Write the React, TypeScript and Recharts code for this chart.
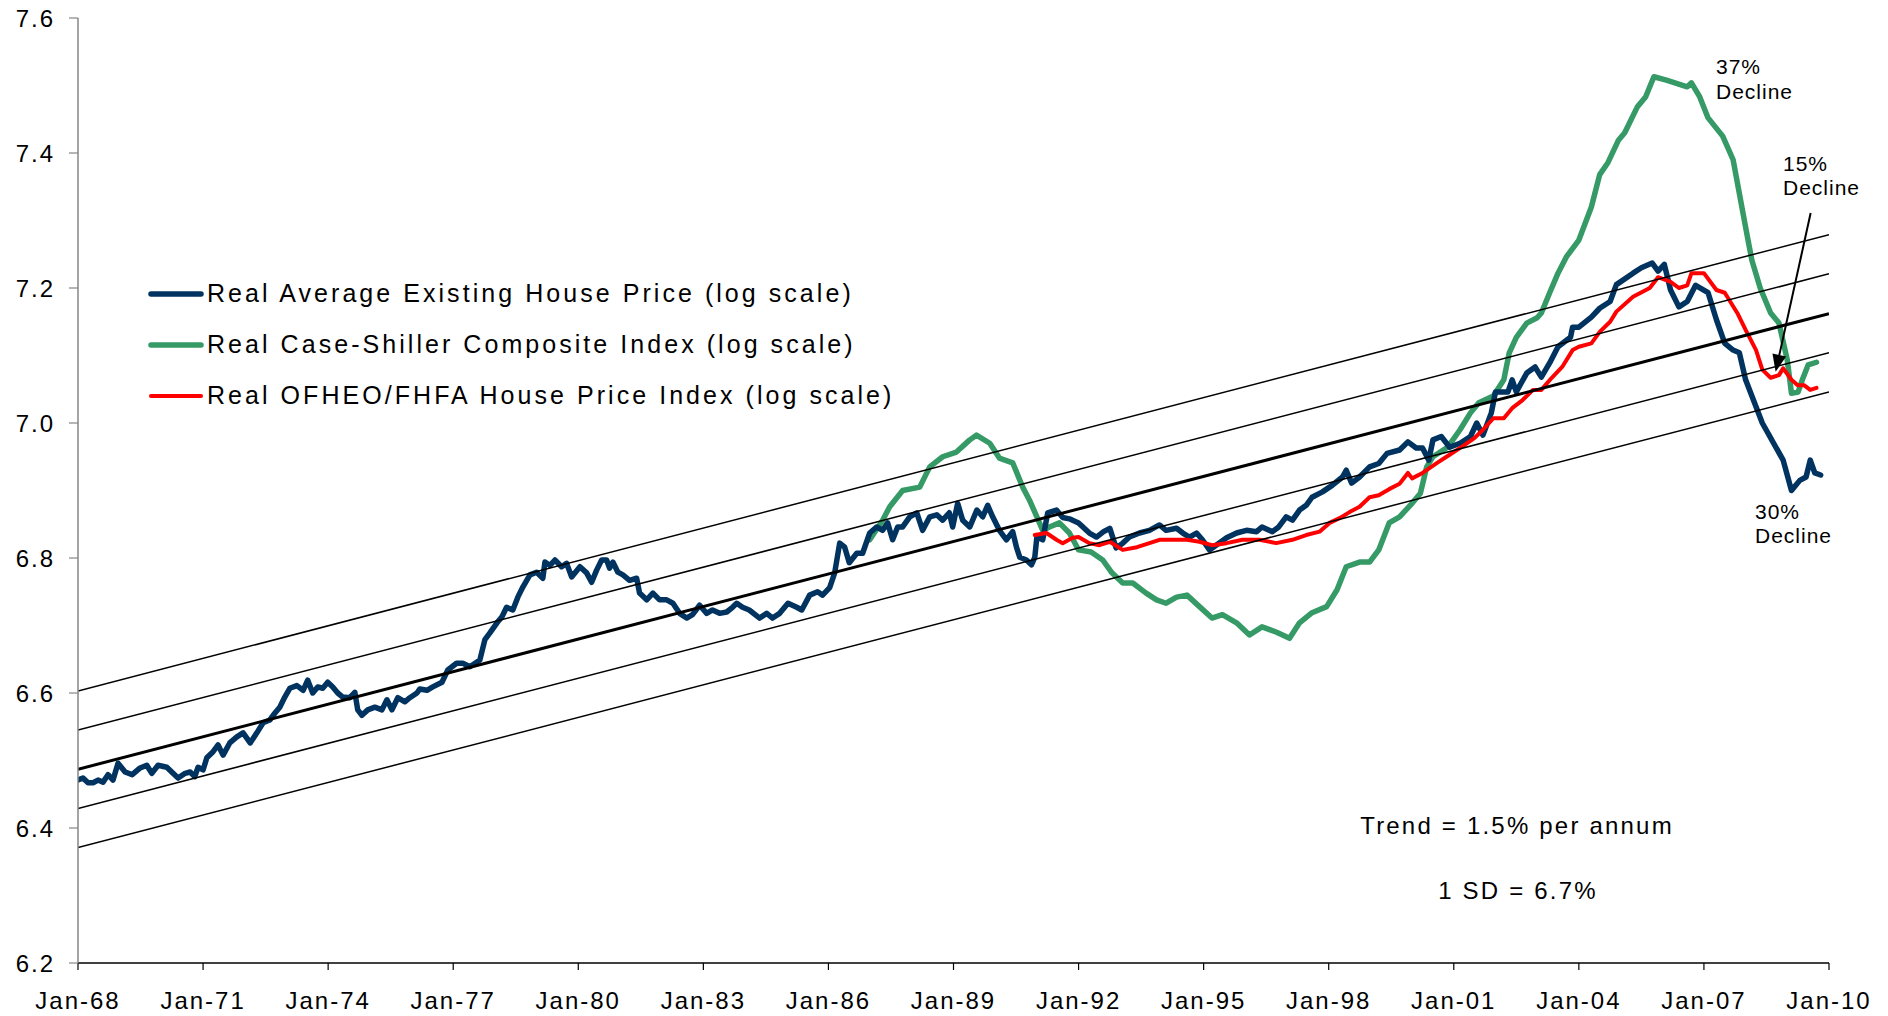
import React from 'react';
import { LineChart, Line, XAxis, YAxis, ReferenceLine, Legend } from 'recharts';

const FONT = '"Liberation Sans", Arial, Helvetica, sans-serif';

// ---------- axes ----------
const xTickYears = [1968, 1971, 1974, 1977, 1980, 1983, 1986, 1989, 1992, 1995, 1998, 2001, 2004, 2007, 2010];
const yTicks = [6.2, 6.4, 6.6, 6.8, 7.0, 7.2, 7.4, 7.6];

// ---------- trend channel (log) ----------
const trendYears = [1968, 2010];
const trendUpper2 = [6.603, 7.279];
const trendUpper1 = [6.545, 7.221];
const trendCenter = [6.487, 7.162];
const trendLower1 = [6.429, 7.104];
const trendLower2 = [6.371, 7.046];

// ---------- series: [year, log value] ----------
const avgExistingPrice: [number, number][] = [
  [1968.0, 6.471], [1968.12, 6.474], [1968.24, 6.467], [1968.36, 6.467], [1968.48, 6.471], [1968.6, 6.468],
  [1968.72, 6.479], [1968.84, 6.471], [1968.96, 6.496], [1969.13, 6.483], [1969.3, 6.479], [1969.49, 6.489],
  [1969.65, 6.493], [1969.77, 6.481], [1969.92, 6.493], [1970.13, 6.49], [1970.28, 6.481], [1970.4, 6.474],
  [1970.57, 6.481], [1970.69, 6.483], [1970.8, 6.476], [1970.88, 6.49], [1971.0, 6.486], [1971.09, 6.504],
  [1971.24, 6.513], [1971.36, 6.523], [1971.48, 6.508], [1971.64, 6.526], [1971.81, 6.535], [1971.96, 6.541],
  [1972.13, 6.526], [1972.29, 6.541], [1972.44, 6.556], [1972.6, 6.56], [1972.72, 6.57], [1972.84, 6.579],
  [1972.96, 6.594], [1973.08, 6.607], [1973.25, 6.611], [1973.4, 6.604], [1973.51, 6.619], [1973.63, 6.6],
  [1973.75, 6.609], [1973.87, 6.607], [1973.99, 6.616], [1974.11, 6.609], [1974.23, 6.6], [1974.35, 6.594],
  [1974.52, 6.593], [1974.64, 6.601], [1974.71, 6.575], [1974.81, 6.567], [1974.95, 6.575], [1975.12, 6.579],
  [1975.29, 6.575], [1975.41, 6.59], [1975.53, 6.575], [1975.67, 6.593], [1975.84, 6.587], [1975.96, 6.593],
  [1976.13, 6.6], [1976.2, 6.606], [1976.37, 6.604], [1976.51, 6.609], [1976.73, 6.616], [1976.87, 6.634],
  [1977.08, 6.644], [1977.23, 6.644], [1977.4, 6.639], [1977.64, 6.649], [1977.76, 6.679], [1977.88, 6.689],
  [1978.05, 6.704], [1978.17, 6.713], [1978.28, 6.727], [1978.43, 6.723], [1978.55, 6.742], [1978.67, 6.757],
  [1978.84, 6.775], [1979.0, 6.779], [1979.15, 6.77], [1979.2, 6.794], [1979.32, 6.789], [1979.44, 6.797],
  [1979.6, 6.787], [1979.72, 6.792], [1979.84, 6.772], [1980.04, 6.787], [1980.2, 6.778], [1980.32, 6.764],
  [1980.44, 6.782], [1980.56, 6.797], [1980.68, 6.797], [1980.75, 6.785], [1980.83, 6.794], [1980.95, 6.779],
  [1981.07, 6.775], [1981.23, 6.767], [1981.4, 6.77], [1981.47, 6.748], [1981.64, 6.738], [1981.79, 6.748],
  [1981.95, 6.738], [1982.12, 6.738], [1982.27, 6.733], [1982.43, 6.718], [1982.6, 6.711], [1982.74, 6.716],
  [1982.91, 6.73], [1983.08, 6.718], [1983.22, 6.723], [1983.39, 6.718], [1983.56, 6.72], [1983.7, 6.727],
  [1983.8, 6.733], [1983.94, 6.727], [1984.1, 6.723], [1984.35, 6.711], [1984.52, 6.718], [1984.66, 6.711],
  [1984.83, 6.718], [1985.03, 6.733], [1985.24, 6.727], [1985.36, 6.723], [1985.55, 6.745], [1985.74, 6.75],
  [1985.86, 6.745], [1986.03, 6.756], [1986.15, 6.778], [1986.27, 6.822], [1986.39, 6.816], [1986.5, 6.793],
  [1986.68, 6.807], [1986.82, 6.807], [1986.99, 6.837], [1987.16, 6.846], [1987.3, 6.841], [1987.42, 6.852],
  [1987.54, 6.827], [1987.66, 6.846], [1987.78, 6.846], [1987.95, 6.861], [1988.12, 6.867], [1988.26, 6.841],
  [1988.43, 6.861], [1988.6, 6.864], [1988.74, 6.856], [1988.9, 6.867], [1988.98, 6.846], [1989.1, 6.881],
  [1989.22, 6.856], [1989.39, 6.846], [1989.56, 6.871], [1989.7, 6.861], [1989.82, 6.878], [1989.94, 6.861],
  [1990.1, 6.841], [1990.27, 6.827], [1990.42, 6.839], [1990.51, 6.816], [1990.59, 6.801], [1990.75, 6.797],
  [1990.87, 6.79], [1990.95, 6.801], [1991.0, 6.831], [1991.14, 6.827], [1991.26, 6.867], [1991.47, 6.871],
  [1991.62, 6.86], [1991.78, 6.858], [1992.0, 6.852], [1992.26, 6.837], [1992.43, 6.831], [1992.6, 6.839],
  [1992.75, 6.844], [1992.9, 6.815], [1993.06, 6.822], [1993.22, 6.831], [1993.46, 6.837], [1993.7, 6.841],
  [1993.94, 6.849], [1994.1, 6.841], [1994.35, 6.844], [1994.5, 6.837], [1994.66, 6.831], [1994.83, 6.837],
  [1994.97, 6.827], [1995.14, 6.812], [1995.3, 6.819], [1995.55, 6.83], [1995.79, 6.837], [1996.03, 6.841],
  [1996.27, 6.839], [1996.4, 6.846], [1996.65, 6.839], [1996.8, 6.846], [1996.98, 6.861], [1997.13, 6.856],
  [1997.3, 6.871], [1997.46, 6.878], [1997.6, 6.89], [1997.85, 6.898], [1998.09, 6.908], [1998.33, 6.92],
  [1998.42, 6.93], [1998.55, 6.911], [1998.74, 6.92], [1998.98, 6.935], [1999.2, 6.94], [1999.4, 6.955],
  [1999.7, 6.96], [1999.9, 6.972], [2000.1, 6.963], [2000.25, 6.963], [2000.4, 6.945], [2000.5, 6.975],
  [2000.7, 6.98], [2000.9, 6.964], [2001.15, 6.97], [2001.4, 6.98], [2001.55, 7.0], [2001.7, 6.982],
  [2001.9, 7.015], [2002.0, 7.046], [2002.3, 7.046], [2002.4, 7.064], [2002.5, 7.046], [2002.75, 7.074],
  [2002.95, 7.083], [2003.1, 7.068], [2003.3, 7.089], [2003.5, 7.113], [2003.8, 7.127], [2003.85, 7.142],
  [2004.0, 7.142], [2004.3, 7.157], [2004.5, 7.17], [2004.75, 7.18], [2004.9, 7.205], [2005.3, 7.222],
  [2005.5, 7.23], [2005.76, 7.237], [2005.9, 7.225], [2006.05, 7.235], [2006.2, 7.197], [2006.4, 7.172],
  [2006.6, 7.18], [2006.8, 7.204], [2007.1, 7.193], [2007.3, 7.153], [2007.5, 7.118], [2007.7, 7.108],
  [2007.85, 7.104], [2008.0, 7.064], [2008.4, 7.0], [2008.9, 6.945], [2009.1, 6.9], [2009.3, 6.915],
  [2009.45, 6.92], [2009.55, 6.945], [2009.66, 6.926], [2009.8, 6.923],
];

const caseShiller: [number, number][] = [
  [1986.99, 6.827], [1987.3, 6.856], [1987.47, 6.876], [1987.78, 6.9], [1988.19, 6.905], [1988.43, 6.935],
  [1988.74, 6.95], [1989.07, 6.957], [1989.39, 6.975], [1989.55, 6.982], [1989.87, 6.97], [1990.1, 6.948],
  [1990.42, 6.941], [1990.66, 6.905], [1990.82, 6.886], [1991.0, 6.861], [1991.14, 6.841], [1991.3, 6.846],
  [1991.54, 6.852], [1991.78, 6.837], [1992.0, 6.812], [1992.3, 6.809], [1992.58, 6.797], [1992.8, 6.778],
  [1993.06, 6.763], [1993.3, 6.763], [1993.62, 6.748], [1993.87, 6.738], [1994.1, 6.733], [1994.35, 6.742],
  [1994.6, 6.745], [1994.9, 6.728], [1995.2, 6.711], [1995.45, 6.716], [1995.79, 6.704], [1996.1, 6.686],
  [1996.4, 6.698], [1996.75, 6.69], [1997.06, 6.681], [1997.3, 6.704], [1997.6, 6.719], [1997.95, 6.728],
  [1998.2, 6.753], [1998.42, 6.787], [1998.74, 6.794], [1998.98, 6.794], [1999.2, 6.812], [1999.45, 6.852],
  [1999.7, 6.861], [2000.0, 6.881], [2000.2, 6.896], [2000.35, 6.935], [2000.5, 6.95], [2000.85, 6.964],
  [2001.15, 6.99], [2001.4, 7.015], [2001.6, 7.03], [2001.95, 7.04], [2002.2, 7.064], [2002.33, 7.104],
  [2002.5, 7.127], [2002.75, 7.148], [2003.0, 7.156], [2003.1, 7.163], [2003.3, 7.193], [2003.5, 7.222],
  [2003.7, 7.246], [2004.0, 7.271], [2004.3, 7.32], [2004.5, 7.368], [2004.7, 7.386], [2004.95, 7.419],
  [2005.1, 7.43], [2005.4, 7.468], [2005.6, 7.483], [2005.8, 7.513], [2006.1, 7.508], [2006.6, 7.498],
  [2006.7, 7.504], [2006.9, 7.483], [2007.1, 7.452], [2007.45, 7.425], [2007.7, 7.39], [2007.85, 7.34],
  [2008.0, 7.29], [2008.15, 7.241], [2008.35, 7.2], [2008.6, 7.163], [2008.8, 7.148], [2009.0, 7.093],
  [2009.1, 7.044], [2009.26, 7.046], [2009.36, 7.064], [2009.5, 7.086], [2009.7, 7.09],
];

const ofheoFhfa: [number, number][] = [
  [1990.95, 6.834], [1991.23, 6.837], [1991.47, 6.827], [1991.62, 6.822], [1991.86, 6.83], [1992.0, 6.831],
  [1992.26, 6.822], [1992.5, 6.819], [1992.75, 6.824], [1992.98, 6.815], [1993.06, 6.812], [1993.4, 6.816],
  [1993.7, 6.822], [1993.94, 6.827], [1994.25, 6.827], [1994.6, 6.827], [1994.9, 6.824], [1995.2, 6.819],
  [1995.55, 6.822], [1995.93, 6.827], [1996.34, 6.827], [1996.74, 6.822], [1997.13, 6.827], [1997.46, 6.834],
  [1997.78, 6.839], [1998.02, 6.852], [1998.26, 6.859], [1998.5, 6.868], [1998.74, 6.876], [1998.98, 6.89],
  [1999.2, 6.893], [1999.45, 6.902], [1999.7, 6.91], [1999.9, 6.926], [2000.0, 6.918], [2000.25, 6.926],
  [2000.6, 6.941], [2000.9, 6.953], [2001.2, 6.965], [2001.5, 6.978], [2001.7, 6.99], [2001.95, 7.007],
  [2002.2, 7.007], [2002.4, 7.022], [2002.65, 7.034], [2002.9, 7.049], [2003.1, 7.049], [2003.35, 7.067],
  [2003.6, 7.083], [2003.85, 7.108], [2004.0, 7.113], [2004.3, 7.118], [2004.5, 7.135], [2004.75, 7.15],
  [2004.9, 7.165], [2005.3, 7.187], [2005.7, 7.2], [2005.9, 7.216], [2006.2, 7.209], [2006.4, 7.2],
  [2006.6, 7.204], [2006.7, 7.222], [2007.0, 7.222], [2007.3, 7.197], [2007.5, 7.193], [2007.8, 7.163],
  [2008.0, 7.138], [2008.25, 7.108], [2008.4, 7.079], [2008.6, 7.067], [2008.8, 7.071], [2008.9, 7.081],
  [2009.1, 7.064], [2009.25, 7.056], [2009.4, 7.056], [2009.55, 7.049], [2009.7, 7.052],
];

// arrow pointing at the OFHEO decline: [year, value] from -> to
const arrowFrom: [number, number] = [2009.56, 7.311];
const arrowTo: [number, number] = [2008.72, 7.076];

const seriesNames = [
  'Real Average Existing House Price (log scale)',
  'Real Case-Shiller Composite Index (log scale)',
  'Real OFHEO/FHFA House Price Index (log scale)',
];
const declineLabels = ['37%', '15%', '30%'];
const declineWord = 'Decline';
const trendNote = 'Trend = 1.5% per annum';
const sdNote = '1 SD = 6.7%';

const BLUE = '#00335f';
const GREEN = '#359a65';
const RED = '#ff0000';

const toPoints = (arr: [number, number][]) => arr.map(([x, y]) => ({ x, y }));
const trendPoints = (vals: number[]) => trendYears.map((x, i) => ({ x, y: vals[i] }));

const legendItems = [
  { label: seriesNames[0], color: BLUE, width: 5.5 },
  { label: seriesNames[1], color: GREEN, width: 5.5 },
  { label: seriesNames[2], color: RED, width: 4 },
];

const renderLegend = () => (
  <div style={{ fontFamily: FONT }}>
    {legendItems.map((item) => (
      <div key={item.label} style={{ display: 'flex', alignItems: 'center', height: 51 }}>
        <svg width={56} height={10} style={{ display: 'block' }}>
          <line x1={3} y1={5} x2={53} y2={5} stroke={item.color} strokeWidth={item.width} strokeLinecap="round" />
        </svg>
        <span style={{ fontSize: 25, letterSpacing: '3.05px', marginLeft: 3, color: '#000', whiteSpace: 'nowrap' }}>
          {item.label}
        </span>
      </div>
    ))}
  </div>
);

const ArrowShape = (props: any) => {
  const { x1, y1, x2, y2 } = props;
  if ([x1, y1, x2, y2].some((v) => typeof v !== 'number' || isNaN(v))) return null;
  const ang = Math.atan2(y2 - y1, x2 - x1);
  const L = 17;
  const W = 7;
  const bx = x2 - L * Math.cos(ang);
  const by = y2 - L * Math.sin(ang);
  const px = -Math.sin(ang) * W;
  const py = Math.cos(ang) * W;
  return (
    <g>
      <line x1={x1} y1={y1} x2={bx} y2={by} stroke="#000" strokeWidth={2} />
      <polygon points={`${x2},${y2} ${bx + px},${by + py} ${bx - px},${by - py}`} fill="#000" />
    </g>
  );
};

const yearLabel = (v: number) => `Jan-${String(v % 100).padStart(2, '0')}`;

export default function App() {
  const annStyle = { fontFamily: FONT, fontSize: 21, letterSpacing: 1, fill: '#000' } as const;
  const noteStyle = { fontFamily: FONT, fontSize: 24, letterSpacing: 2.2, fill: '#000' } as const;
  return (
    <div style={{ position: 'absolute', left: 0, top: 0, width: 1888, height: 1016, background: '#fff' }}>
      <LineChart width={1888} height={1016} margin={{ top: 18, right: 59, bottom: 0, left: 0 }}>
        <XAxis
          type="number"
          dataKey="x"
          domain={[1968, 2010]}
          ticks={xTickYears}
          tickFormatter={yearLabel}
          height={53}
          axisLine={{ stroke: '#000', strokeWidth: 1.5 }}
          tickLine={{ stroke: '#000', strokeWidth: 1.2 }}
          tickSize={7}
          tickMargin={22}
          tick={{ fontSize: 24, fill: '#000', fontFamily: FONT, letterSpacing: 2 }}
          allowDataOverflow
          interval={0}
        />
        <YAxis
          type="number"
          domain={[6.2, 7.6]}
          ticks={yTicks}
          tickFormatter={(v: number) => v.toFixed(1)}
          width={78}
          axisLine={{ stroke: '#868686', strokeWidth: 1.5 }}
          tickLine={{ stroke: '#868686', strokeWidth: 1.2 }}
          tickSize={9}
          tickMargin={14}
          tick={{ fontSize: 24, fill: '#000', fontFamily: FONT, letterSpacing: 2 }}
          allowDataOverflow
          interval={0}
        />
        <Legend
          layout="vertical"
          align="center"
          verticalAlign="middle"
          content={renderLegend}
          wrapperStyle={{ left: 148, top: 268, width: 840, height: 160 }}
        />
        <Line data={toPoints(caseShiller)} dataKey="y" name={seriesNames[1]} stroke={GREEN} strokeWidth={5.5}
          dot={false} isAnimationActive={false} strokeLinejoin="round" strokeLinecap="round" legendType="none" />
        <Line data={toPoints(avgExistingPrice)} dataKey="y" name={seriesNames[0]} stroke={BLUE} strokeWidth={5.5}
          dot={false} isAnimationActive={false} strokeLinejoin="round" strokeLinecap="round" legendType="none" />
        <Line data={toPoints(ofheoFhfa)} dataKey="y" name={seriesNames[2]} stroke={RED} strokeWidth={4}
          dot={false} isAnimationActive={false} strokeLinejoin="round" strokeLinecap="round" legendType="none" />
        {[trendUpper2, trendUpper1, trendLower1, trendLower2].map((vals, i) => (
          <Line key={i} data={trendPoints(vals)} dataKey="y" stroke="#000" strokeWidth={1.5}
            dot={false} isAnimationActive={false} legendType="none" />
        ))}
        <Line data={trendPoints(trendCenter)} dataKey="y" stroke="#000" strokeWidth={3}
          dot={false} isAnimationActive={false} legendType="none" />
        <ReferenceLine
          segment={[{ x: arrowFrom[0], y: arrowFrom[1] }, { x: arrowTo[0], y: arrowTo[1] }]}
          shape={ArrowShape}
          ifOverflow="visible"
        />
      </LineChart>
      <svg width={1888} height={1016} style={{ position: 'absolute', left: 0, top: 0, pointerEvents: 'none' }}>
        <text x={1716} y={74} {...annStyle}>{declineLabels[0]}</text>
        <text x={1716} y={99} {...annStyle}>{declineWord}</text>
        <text x={1783} y={171} {...annStyle}>{declineLabels[1]}</text>
        <text x={1783} y={195} {...annStyle}>{declineWord}</text>
        <text x={1755} y={519} {...annStyle}>{declineLabels[2]}</text>
        <text x={1755} y={543} {...annStyle}>{declineWord}</text>
        <text x={1517} y={834} textAnchor="middle" {...noteStyle}>{trendNote}</text>
        <text x={1518} y={899} textAnchor="middle" {...noteStyle}>{sdNote}</text>
      </svg>
    </div>
  );
}
